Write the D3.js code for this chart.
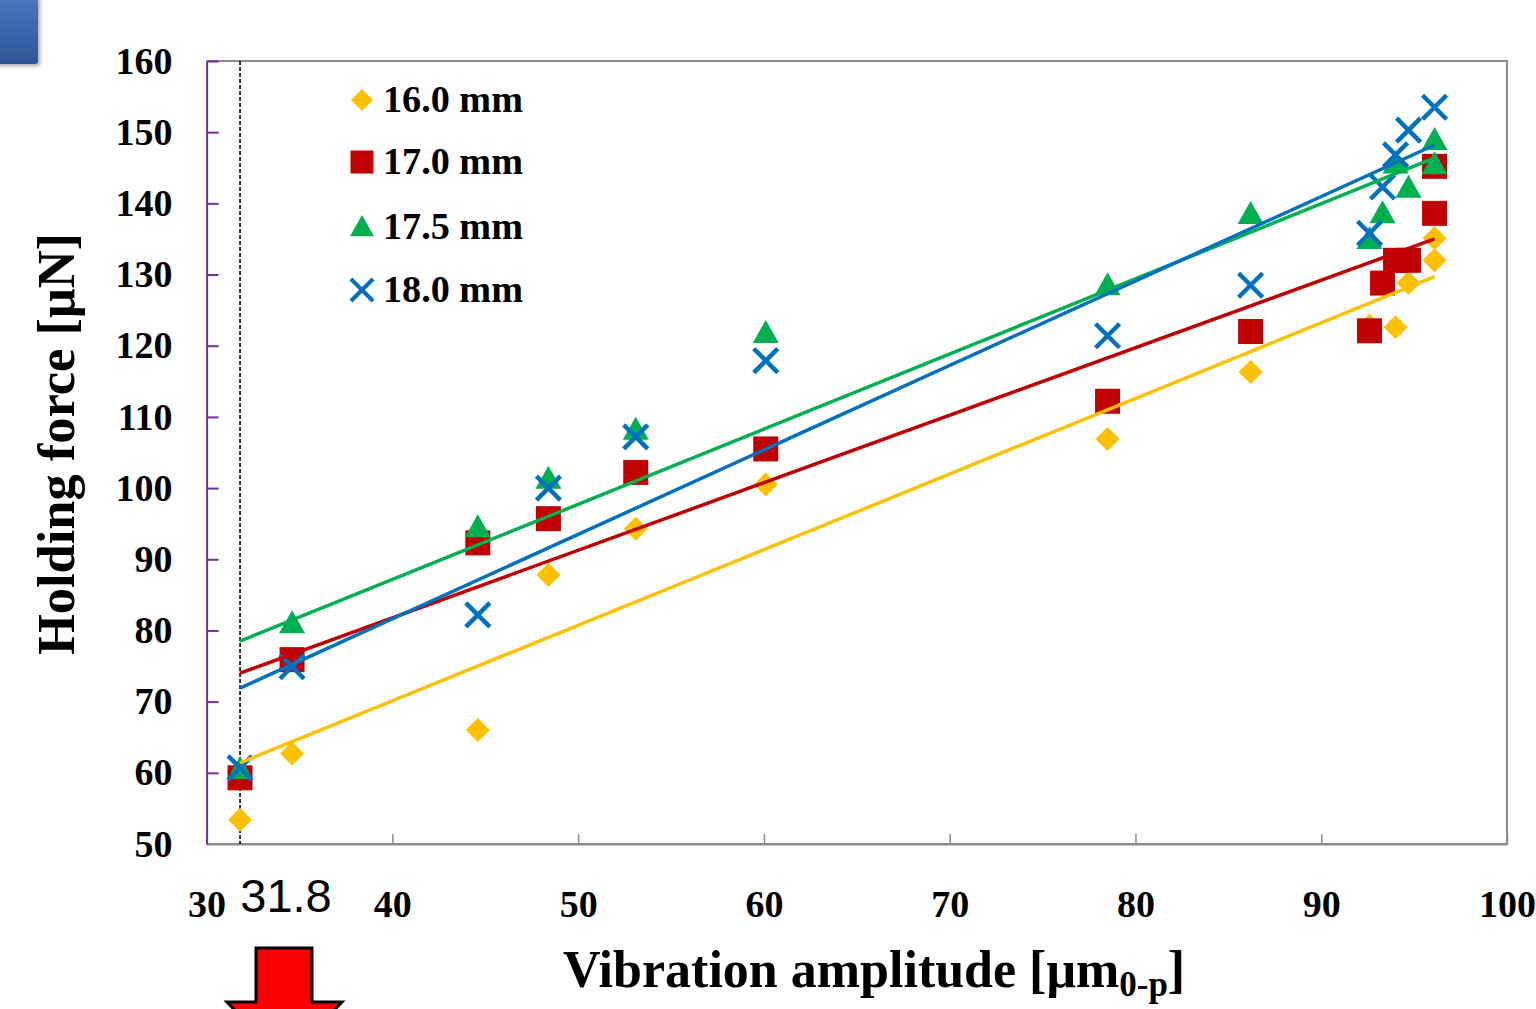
<!DOCTYPE html>
<html>
<head>
<meta charset="utf-8">
<script src="https://cdn.jsdelivr.net/npm/d3@7"></script>
<style>
  body { margin: 0; background: #fff; }
  svg { display: block; }
  .serif { font-family: "Times New Roman", "Liberation Serif", serif; font-weight: bold; }
</style>
</head>
<body>
<svg id="chart" width="1536" height="1009"></svg>
<script>
// data
var seriesNames = ['16.0 mm', '17.0 mm', '17.5 mm', '18.0 mm'];
var seriesColors = ['#FFC000', '#C00000', '#00B050', '#0070C0'];
var seriesShapes = ['diamond', 'square', 'triangle', 'cross'];

var amp16 = [31.8, 34.6, 44.6, 48.4, 53.1, 60.1, 78.5, 86.2, 92.6, 94.0, 94.7, 96.1, 96.1];
var force16 = [53.4, 62.7, 66.0, 87.8, 94.3, 100.5, 106.9, 116.3, 122.8, 122.6, 128.8, 132.0, 135.1];

var amp170 = [31.8, 34.6, 44.6, 48.4, 53.1, 60.1, 78.5, 86.2, 92.6, 93.3, 94.0, 94.7, 96.1, 96.1];
var force170 = [59.3, 75.9, 92.3, 95.7, 102.2, 105.5, 112.2, 122.0, 122.1, 128.8, 132.0, 132.0, 138.6, 145.2];

var amp175 = [31.8, 34.6, 44.6, 48.4, 53.1, 60.1, 78.5, 86.2, 92.6, 93.3, 94.0, 94.7, 96.1, 96.1];
var force175 = [60.5, 81.0, 94.5, 101.3, 108.2, 121.8, 128.5, 138.5, 135.0, 138.6, 145.6, 142.2, 148.9, 145.5];

var amp18 = [31.8, 34.6, 44.6, 48.4, 53.1, 60.1, 78.5, 86.2, 92.6, 93.3, 94.0, 94.7, 96.1];
var force18 = [60.7, 74.9, 82.2, 100.0, 107.2, 117.9, 121.4, 128.5, 135.8, 142.3, 146.8, 150.3, 153.5];

// linear trend lines (ends)
var trendAmp = [31.8, 96.1];
var trendStart = [61.4, 74.0, 78.5, 71.9];
var trendEnd = [129.7, 135.0, 146.4, 148.2];

var xTicks = [30, 40, 50, 60, 70, 80, 90, 100];
var yTicks = [50, 60, 70, 80, 90, 100, 110, 120, 130, 140, 150, 160];
var markAmp = 31.8;

var svg = d3.select('#chart');
var plotLeft = 206.6, plotRight = 1507, plotTop = 61, plotBottom = 844;

var x = d3.scaleLinear().domain([30, 100]).range([plotLeft, plotRight]);
var y = d3.scaleLinear().domain([50, 160]).range([plotBottom, plotTop]);

// blue box in the corner
var defs = svg.append('defs');
var grad = defs.append('linearGradient').attr('id', 'boxgrad')
    .attr('x1', 0).attr('y1', 0).attr('x2', 0).attr('y2', 1);
grad.append('stop').attr('offset', '0%').attr('stop-color', '#4F81C8');
grad.append('stop').attr('offset', '100%').attr('stop-color', '#2B5798');
var shadow = defs.append('filter').attr('id', 'shadow');
shadow.append('feDropShadow').attr('dx', 2).attr('dy', 2).attr('stdDeviation', 2)
    .attr('flood-color', '#000').attr('flood-opacity', 0.35);
svg.append('rect').attr('x', -20).attr('y', -20).attr('width', 58).attr('height', 84)
    .attr('rx', 3).attr('fill', 'url(#boxgrad)').attr('filter', 'url(#shadow)');

// frame
svg.append('path')
    .attr('d', 'M' + plotLeft + ',' + plotTop + 'H' + plotRight + 'V' + plotBottom + 'H' + plotLeft)
    .attr('fill', 'none').attr('stroke', '#8c8c8c').attr('stroke-width', 2);

// x axis, ticks point inwards
var xAxis = svg.append('g').attr('transform', 'translate(0,' + plotBottom + ')')
    .call(d3.axisBottom(x).tickValues(xTicks).tickSize(-10).tickPadding(46).tickSizeOuter(0));
xAxis.select('.domain').attr('stroke', '#8c8c8c').attr('stroke-width', 2);
xAxis.selectAll('.tick line').attr('stroke', '#8c8c8c').attr('stroke-width', 1.5);
xAxis.selectAll('.tick text').attr('class', 'serif').attr('font-size', 38).attr('fill', '#000');

// y axis in purple
var yAxis = svg.append('g').attr('transform', 'translate(' + plotLeft + ',0)')
    .call(d3.axisLeft(y).tickValues(yTicks).tickSize(-12).tickPadding(34).tickSizeOuter(0));
yAxis.select('.domain').attr('stroke', '#7030A0').attr('stroke-width', 2);
yAxis.selectAll('.tick line').attr('stroke', '#7030A0').attr('stroke-width', 2);
yAxis.selectAll('.tick text').attr('class', 'serif').attr('font-size', 38).attr('fill', '#000');
yAxis.selectAll('.tick').filter(function(d) { return d === 50; }).select('line').remove();

// dashed marker line at 31.8
svg.append('line')
    .attr('x1', x(markAmp)).attr('x2', x(markAmp))
    .attr('y1', plotTop).attr('y2', plotBottom)
    .attr('stroke', '#000').attr('stroke-width', 1.6).attr('stroke-dasharray', '4,2');

function markerPath(shape) {
    if (shape === 'diamond') return 'M0,-12L12,0L0,12L-12,0Z';
    if (shape === 'square') return 'M-12.5,-12.5H12.5V12.5H-12.5Z';
    if (shape === 'triangle') return 'M0,-13L13,10L-13,10Z';
    return 'M-12,-12L12,12M12,-12L-12,12';
}

function drawMarker(g, shape, color) {
    var p = g.append('path').attr('d', markerPath(shape));
    if (shape === 'cross') {
        p.attr('fill', 'none').attr('stroke', color).attr('stroke-width', 4.5);
    } else {
        p.attr('fill', color);
    }
    return p;
}

var ampSets = [amp16, amp170, amp175, amp18];
var forceSets = [force16, force170, force175, force18];

var pointsG = svg.append('g');
ampSets.forEach(function(amps, i) {
    var pts = amps.map(function(a, j) { return { a: a, f: forceSets[i][j] }; });
    pointsG.append('g').selectAll('g')
        .data(pts)
        .enter().append('g')
        .attr('transform', function(d) { return 'translate(' + x(d.a) + ',' + y(d.f) + ')'; })
        .each(function() { drawMarker(d3.select(this), seriesShapes[i], seriesColors[i]); });
});

// trend lines on top
var line = d3.line().x(function(d) { return x(d[0]); }).y(function(d) { return y(d[1]); });
seriesNames.forEach(function(name, i) {
    svg.append('path')
        .datum([[trendAmp[0], trendStart[i]], [trendAmp[1], trendEnd[i]]])
        .attr('d', line)
        .attr('fill', 'none')
        .attr('stroke', seriesColors[i])
        .attr('stroke-width', 3.5);
});

// legend
var legendY = [100, 162, 227, 290];
var legend = svg.append('g');
seriesNames.forEach(function(name, i) {
    var row = legend.append('g').attr('transform', 'translate(362,' + legendY[i] + ')');
    var m = drawMarker(row, seriesShapes[i], seriesColors[i]);
    m.attr('transform', 'scale(0.92)');
    row.append('text').attr('class', 'serif')
        .attr('x', 21).attr('y', 12)
        .attr('font-size', 37)
        .attr('textLength', 140).attr('lengthAdjust', 'spacingAndGlyphs')
        .text(name);
});

// axis titles
svg.append('text').attr('class', 'serif')
    .attr('transform', 'translate(74,444) rotate(-90)')
    .attr('text-anchor', 'middle')
    .attr('font-size', 53)
    .attr('textLength', 422).attr('lengthAdjust', 'spacingAndGlyphs')
    .text('Holding force [\u03bcN]');

var xt = svg.append('text').attr('class', 'serif')
    .attr('x', 563).attr('y', 987)
    .attr('font-size', 52);
xt.append('tspan').text('Vibration amplitude [\u03bcm');
xt.append('tspan').attr('font-size', 35).attr('dy', 9).text('0-p');
xt.append('tspan').attr('dy', -9).text(']');

// 31.8 label and red arrow
svg.append('text')
    .attr('x', 286).attr('y', 912)
    .attr('text-anchor', 'middle')
    .attr('font-family', 'Arial, "Liberation Sans", sans-serif')
    .attr('font-size', 47)
    .text('31.8');

svg.append('path')
    .attr('d', 'M256,948H312V1002H342L284,1062L227,1002H256Z')
    .attr('fill', '#FF0000')
    .attr('stroke', '#000')
    .attr('stroke-width', 3);
</script>
</body>
</html>
